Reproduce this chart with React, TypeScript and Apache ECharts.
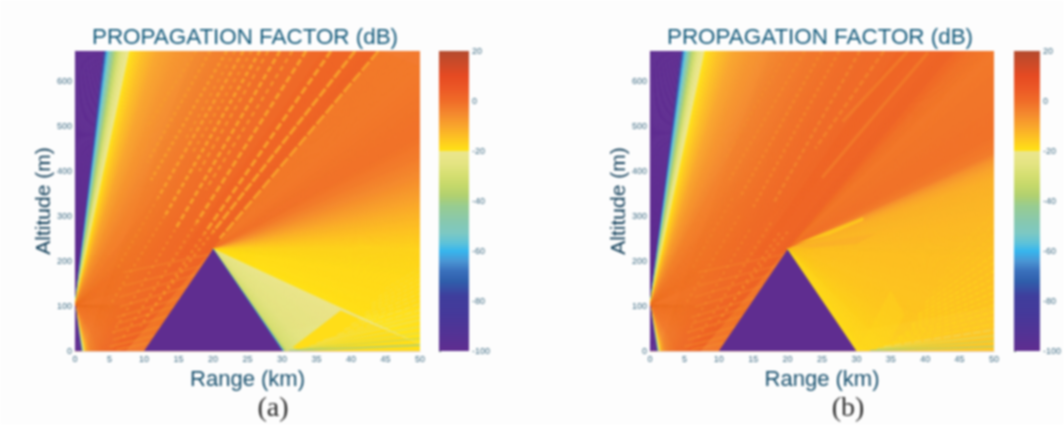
import React, { useEffect, useRef } from "react";
import * as echarts from "echarts";

const FONT = "'Liberation Sans', Arial, sans-serif";
const Y_MAX = 667;

// colour scale
const paletteDb = [-100, -85, -78, -72, -68, -64, -60, -57, -53, -48, -42, -38, -34, -30, -25, -20.01, -20, -15, -10, -5, 0, 5, 10, 15, 20];
const paletteColors = ["#5f2d90", "#45399a", "#3f3e9c", "#2f5fac", "#3a70bc", "#4a96d4", "#36b6ee", "#5cc2da", "#7cc8c4", "#88c8ae", "#98cc90", "#b0d070", "#c4d86a", "#d4de70", "#e4e482", "#ece68e", "#ffe316", "#fdc422", "#f9a52c", "#f4882e", "#f06c28", "#ec5826", "#e64a22", "#cc4a28", "#b34a2e"];

const xTicks = [0, 50];
const yTicks = [0, Y_MAX];
const dbRange = [-100, 20];

// hill outline [km, m]
const hill = [[10, 0], [20, 226], [30, 0]];

// fans: [ray end km, ray end m, dB, opacity]
const sourceOrigin = [0, 100];
const apexOrigin = [20, 226];
const imageOrigin = [-3.5, -195];
const sourceFanA = [[0, 667, -100], [4.1, 667, -100], [4.4, 667, -72], [4.7, 667, -60], [5.1, 667, -50], [5.8, 667, -38], [6.6, 667, -28], [7.6, 667, -21], [8.1, 667, -19.5], [8.9, 667, -17], [10, 667, -14], [12, 667, -10], [15, 667, -7], [20, 667, -4.5], [28, 667, -3], [50, 667, -2], [50, 100, -2], [14, 0, -2], [4, 0, -2.5], [2.2, 0, -6], [1.6, 0, -12], [1.3, 0, -19], [1.1, 0, -30], [0.95, 0, -60], [0.8, 0, -100], [0, 0, -100]];
const sourceFanB = [[0, 667, -100], [4.5, 667, -100], [4.8, 667, -72], [5.1, 667, -60], [5.5, 667, -50], [6.1, 667, -38], [6.8, 667, -28], [7.6, 667, -21], [8.2, 667, -19.5], [9, 667, -17], [10.2, 667, -14], [12.2, 667, -10], [15, 667, -7], [20, 667, -4], [28, 667, -2.5], [50, 667, -2], [50, 100, -2], [14, 0, -2], [4, 0, -2.5], [2.3, 0, -6], [1.7, 0, -12], [1.4, 0, -19], [1.2, 0, -30], [1.05, 0, -60], [0.9, 0, -100], [0, 0, -100]];
const imageFan = [[17, 667, -2, 0], [22, 667, -1, 0.4], [26, 667, 0, 0.7], [30, 667, 1, 0.9], [36, 667, 1.5, 1], [44.3, 667, 2, 1]];
const apexFanA = [[44.3, 667, -2.5], [50, 632, -2.5], [50, 484, -1], [50, 432, -3], [50, 384, -6], [50, 347, -9], [50, 310, -12], [50, 268, -15], [50, 230, -17.5], [50, 170, -18.7], [50, 60, -19.4], [50, 18, -19.9], [50, 8, -20.5], [50, -100, -23], [50, -250, -25], [50, -400, -29], [50, -430, -38], [50, -442, -58], [50, -450, -80]];
const apexFanB = [[44.3, 667, 1], [46.5, 667, -1], [50, 667, -2.2], [50, 484, -1], [50, 440, -3], [50, 425, -7], [50, 405, -10], [50, 380, -12], [50, 330, -13], [50, 200, -14.5], [50, 90, -15], [50, -30, -15.5], [50, -150, -16.5], [50, -280, -17.5], [50, -380, -18], [50, -440, -19], [50, -450, -19.5]];

// patches: outline in [km, m], dB and opacity
const patchesA = [
  { points: [[38.5, 90], [50, 15], [50, 0], [33, 0], [31.5, 8]], db: -19, opacity: 1 },
];
const patchesB = [
  { points: [[21, 232], [28, 250], [33, 262], [30, 238], [24, 230]], db: -11, opacity: 0.6 },
  { points: [[21, 238], [26, 268], [31, 298], [31, 290], [26, 258]], db: -19, opacity: 0.6 },
  { points: [[30.2, 0], [35, 135], [37, 80], [34, 0]], db: -18.5, opacity: 0.3 },
];

// fringes rising from the hill foot: [end m at 50 km, start km, dB, opacity, width, dash]
const footOrigin = [30, 0];
const footFringesA = [[13, 31, -42, 1, 1.2, 0], [28, 32, -36, 0.9, 1, 0], [40, 33, -31, 0.7, 1, 0], [54, 34, -28, 0.7, 1, 0], [69, 35, -25, 0.7, 1, 0], [80, 36, -24, 0.6, 1, 0], [91, 38, -23, 0.6, 1, 8], [105, 39, -22, 0.6, 1, 7], [117, 40, -22, 0.5, 1, 6], [128, 41, -22, 0.5, 1, 6], [139, 42, -22, 0.4, 1, 5], [150, 43, -22, 0.4, 1, 5], [161, 43, -22, 0.35, 1, 5], [172, 44, -22, 0.3, 1, 4], [184, 45, -22, 0.25, 1, 4]];
const footFringesB = [[10, 32, -40, 1, 1.1, 0], [22, 33, -36, 0.9, 1, 0], [34, 33, -30, 0.8, 1, 0], [47, 34, -24, 0.7, 1, 8], [60, 34, -19, 0.8, 1, 8], [74, 35, -19, 0.7, 1, 7], [88, 36, -19, 0.7, 1.2, 6], [102, 36, -19, 0.6, 1.2, 6], [116, 37, -19, 0.6, 1.2, 5], [130, 38, -18.5, 0.7, 1.4, 5], [146, 38, -18.5, 0.7, 1.4, 5], [162, 39, -18.5, 0.7, 1.4, 5], [178, 39, -18.5, 0.7, 1.4, 5], [196, 40, -18, 0.6, 1.4, 5], [214, 40, -18, 0.6, 1.4, 5], [234, 41, -17, 0.5, 1.4, 5], [256, 42, -17, 0.5, 1.4, 5], [280, 43, -16, 0.5, 1.4, 5], [306, 44, -16, 0.4, 1.4, 5]];

// stripes above the hill: [km1, m1, km2, m2, dB, opacity, width, dash, gap]
const stripesA = [
  [44, 667, 21, 250, -9, 1, 3, 12, 2], [40.6, 667, 20, 265, -9, 1, 3, 10, 2], [37.1, 667, 18.8, 262, -9, 1, 3, 8, 3], [33.5, 667, 17.6, 285, -9, 1, 3, 7, 3],
  [29.7, 667, 14.5, 270, -9, 1, 3, 6, 3], [26.8, 667, 13, 300, -9, 1, 3, 5, 3], [24.4, 667, 12, 340, -9, 0.9, 3, 5, 3], [22, 667, 11, 380, -9, 0.8, 3, 4, 3], [19.6, 667, 10.5, 420, -9, 0.6, 3, 4, 3], [17.6, 667, 10.5, 500, -9, 0.4, 3, 4, 3],
  [31.5, 667, 19, 360, -9, 0.7, 2.6, 5, 4], [28, 667, 18, 400, -9, 0.7, 2.6, 5, 4], [25.6, 667, 17, 440, -9, 0.6, 2.6, 4, 4], [23.2, 667, 16, 470, -9, 0.5, 2.6, 4, 4],
  [20, 265, 10, 70, -9, 0.6, 2.4, 3, 4], [18.8, 262, 9.5, 55, -9, 0.6, 2.4, 3, 4], [17.6, 285, 7, 30, -9, 0.5, 2.4, 3, 4], [14.5, 270, 5.5, 40, -9, 0.45, 2.4, 3, 4], [13, 300, 5, 100, -9, 0.4, 2.4, 3, 4], [12, 340, 6, 180, -9, 0.35, 2.4, 3, 4],
  [19.5, 215, 7, 175, -8, 0.35, 1.8, 0, 0], [18.5, 190, 7, 145, -8, 0.35, 1.8, 0, 0], [17.5, 170, 6.5, 120, -8, 0.35, 1.8, 0, 0], [16.5, 145, 6.5, 98, -8, 0.4, 1.8, 0, 0], [15.5, 120, 6, 75, -8, 0.4, 1.8, 0, 0], [14.5, 100, 6, 60, -8, 0.4, 1.8, 0, 0], [13.5, 78, 5.5, 42, -8, 0.45, 1.8, 0, 0], [12.5, 55, 5.5, 25, -8, 0.45, 1.8, 0, 0], [11.5, 34, 5, 10, -8, 0.45, 1.8, 0, 0], [10.8, 18, 6, 3, -8, 0.45, 1.8, 0, 0],
];
const stripesB = [
  [40.4, 664, 25, 385, -7, 0.4, 3.2, 0, 0], [37.5, 667, 28, 510, -7, 0.4, 3.2, 0, 0], [34, 667, 24, 450, -7, 0.5, 3, 6, 3], [30.5, 667, 18, 330, -7, 0.5, 3, 5, 3], [27.5, 667, 15, 320, -7, 0.45, 3, 4, 3], [25, 667, 13, 340, -7, 0.45, 3, 4, 3], [22.5, 667, 11.5, 380, -7, 0.4, 3, 4, 3], [20, 667, 11, 430, -7, 0.3, 3, 4, 3],
  [20, 265, 10, 70, -7, 0.5, 2.4, 3, 4], [18.8, 262, 9.5, 55, -7, 0.5, 2.4, 3, 4], [17.6, 285, 7, 30, -7, 0.45, 2.4, 3, 4], [14.5, 270, 5.5, 40, -7, 0.4, 2.4, 3, 4], [13, 300, 5, 100, -7, 0.35, 2.4, 3, 4], [12, 340, 6, 180, -7, 0.3, 2.4, 3, 4],
  [19.5, 215, 7, 175, -8, 0.3, 1.8, 0, 0], [18.5, 190, 7, 145, -8, 0.3, 1.8, 0, 0], [17.5, 170, 6.5, 120, -8, 0.3, 1.8, 0, 0], [16.5, 145, 6.5, 98, -8, 0.35, 1.8, 0, 0], [15.5, 120, 6, 75, -8, 0.35, 1.8, 0, 0], [14.5, 100, 6, 60, -8, 0.35, 1.8, 0, 0], [13.5, 78, 5.5, 42, -8, 0.4, 1.8, 0, 0], [12.5, 55, 5.5, 25, -8, 0.4, 1.8, 0, 0], [11.5, 34, 5, 10, -8, 0.4, 1.8, 0, 0], [10.8, 18, 6, 3, -8, 0.4, 1.8, 0, 0],
];

function hexToRgb(h: string) {
  return [parseInt(h.slice(1, 3), 16), parseInt(h.slice(3, 5), 16), parseInt(h.slice(5, 7), 16)];
}
function colorOf(db: number) {
  if (db <= paletteDb[0]) return paletteColors[0];
  for (let i = 1; i < paletteDb.length; i++) {
    if (db <= paletteDb[i]) {
      const t = (db - paletteDb[i - 1]) / (paletteDb[i] - paletteDb[i - 1]);
      const a = hexToRgb(paletteColors[i - 1]);
      const b = hexToRgb(paletteColors[i]);
      return `rgb(${a.map((v, k) => Math.round(v + (b[k] - v) * t)).join(",")})`;
    }
  }
  return paletteColors[paletteColors.length - 1];
}

// a wedge between two rays, shaded across its angle in thin slices
function fanSeries(gridIndex: number, origin: number[], rays: number[][]) {
  return {
    type: "custom", xAxisIndex: gridIndex, yAxisIndex: gridIndex, clip: true, silent: true,
    data: rays.slice(0, -1).map((r, i) => [r[0], r[1], rays[i + 1][0], rays[i + 1][1], r[2], rays[i + 1][2], r[3] ?? 1, rays[i + 1][3] ?? 1]),
    encode: { x: 0, y: 1 },
    renderItem: (_: any, api: any) => {
      const o = api.coord(origin);
      const a = api.coord([api.value(0), api.value(1)]);
      const b = api.coord([api.value(2), api.value(3)]);
      const d0 = api.value(4), d1 = api.value(5), o0 = api.value(6), o1 = api.value(7);
      const n = Math.max(1, Math.ceil(Math.hypot(b[0] - a[0], b[1] - a[1]) / 1.5));
      const children: any[] = [];
      for (let i = 0; i < n; i++) {
        const t0 = i / n, t1 = (i + 1) / n, tm = (i + 0.5) / n;
        const p = [a[0] + (b[0] - a[0]) * t0, a[1] + (b[1] - a[1]) * t0];
        const q = [a[0] + (b[0] - a[0]) * t1, a[1] + (b[1] - a[1]) * t1];
        const color = colorOf(d0 + (d1 - d0) * tm);
        const opacity = o0 + (o1 - o0) * tm;
        const solid = opacity >= 1;
        children.push({
          type: "polygon", shape: { points: [o, p, q] },
          style: { fill: color, opacity, stroke: solid ? color : null, lineWidth: solid ? 0.7 : 0, lineJoin: "bevel" },
        });
      }
      return { type: "group", children };
    },
  };
}

function patchSeries(gridIndex: number, patches: { points: number[][]; db: number; opacity: number }[]) {
  return {
    type: "custom", xAxisIndex: gridIndex, yAxisIndex: gridIndex, clip: true, silent: true,
    data: patches.map((p, i) => [p.points[0][0], p.points[0][1], i]),
    encode: { x: 0, y: 1 },
    renderItem: (_: any, api: any) => {
      const p = patches[api.value(2)];
      return { type: "polygon", shape: { points: p.points.map((q) => api.coord(q)) }, style: { fill: colorOf(p.db), opacity: p.opacity } };
    },
  };
}

function stripeSeries(gridIndex: number, stripes: number[][]) {
  return {
    type: "custom", xAxisIndex: gridIndex, yAxisIndex: gridIndex, clip: true, silent: true,
    data: stripes,
    encode: { x: 0, y: 1 },
    renderItem: (_: any, api: any) => {
      const a = api.coord([api.value(0), api.value(1)]);
      const b = api.coord([api.value(2), api.value(3)]);
      const dash = api.value(7);
      return {
        type: "line",
        shape: { x1: a[0], y1: a[1], x2: b[0], y2: b[1] },
        style: { stroke: colorOf(api.value(4)), opacity: api.value(5), lineWidth: api.value(6), lineDash: dash ? [dash, api.value(8)] : undefined, fill: null },
      };
    },
  };
}

function footStripes(fringes: number[][]) {
  return fringes.map(([alt, sx, db, op, w, dash]) => [sx, (alt * (sx - footOrigin[0])) / (50 - footOrigin[0]), 50, alt, db, op, w, dash, 2]);
}

function barSeries(gridIndex: number) {
  return {
    type: "custom", xAxisIndex: gridIndex, yAxisIndex: gridIndex, silent: true,
    data: [[0, dbRange[0], 1, dbRange[1]]],
    encode: { x: 0, y: 1 },
    renderItem: (_: any, api: any) => {
      const a = api.coord([api.value(0), api.value(3)]);
      const b = api.coord([api.value(2), api.value(1)]);
      const stops = paletteDb.map((d, i) => ({ offset: (dbRange[1] - d) / (dbRange[1] - dbRange[0]), color: paletteColors[i] })).reverse();
      return {
        type: "rect",
        shape: { x: a[0], y: a[1], width: b[0] - a[0], height: b[1] - a[1] },
        style: { fill: new echarts.graphic.LinearGradient(0, 0, 0, 1, stops) },
      };
    },
  };
}

const TICK = "#3f6c84";
const AXIS = "#e6c8bc";

function plotAxes(gridIndex: number) {
  return {
    x: {
      type: "value", gridIndex, min: xTicks[0], max: xTicks[1], interval: 5,
      name: "Range (km)", nameLocation: "middle", nameGap: 5,
      nameTextStyle: { fontFamily: FONT, fontSize: 22, color: "#154e6c", verticalAlign: "top" },
      axisLine: { lineStyle: { color: AXIS } }, axisTick: { show: false }, splitLine: { show: false },
      axisLabel: { fontFamily: FONT, fontSize: 9, color: TICK, margin: 3 },
    },
    y: {
      type: "value", gridIndex, min: yTicks[0], max: yTicks[1], interval: 100,
      name: "Altitude (m)", nameLocation: "middle", nameGap: 21,
      nameTextStyle: { fontFamily: FONT, fontSize: 21, color: "#0f3d58" },
      axisLine: { lineStyle: { color: AXIS } }, axisTick: { show: false }, splitLine: { show: false },
      axisLabel: { fontFamily: FONT, fontSize: 9, color: TICK, margin: 3, showMaxLabel: false },
    },
  };
}

function barAxes(gridIndex: number) {
  return {
    x: { type: "value", gridIndex, min: 0, max: 1, show: false },
    y: {
      type: "value", gridIndex, min: dbRange[0], max: dbRange[1], interval: 20, position: "right",
      axisLine: { show: false }, axisTick: { show: true, inside: false, length: 2, lineStyle: { color: "#6a8a7a" } }, splitLine: { show: false },
      axisLabel: { fontFamily: FONT, fontSize: 9, color: TICK, margin: 3 },
    },
  };
}

const panelA = plotAxes(0), panelB = plotAxes(1), barA = barAxes(2), barB = barAxes(3);

const hillSeries = (g: number) => patchSeries(g, [{ points: hill, db: -100, opacity: 1 }]);

const titleStyle = { fontFamily: FONT, fontSize: 22.4, fontWeight: "normal", color: "#13597a" };
const letterStyle = { fontFamily: "'Liberation Serif', serif", fontSize: 28, fontWeight: "normal", color: "#2a2a2a" };

const option = {
  animation: false,
  backgroundColor: "#fdfdfd",
  title: [
    { text: "PROPAGATION FACTOR (dB)", left: 240, top: 20, textAlign: "center", textStyle: titleStyle },
    { text: "PROPAGATION FACTOR (dB)", left: 815, top: 20, textAlign: "center", textStyle: titleStyle },
    { text: "(a)", left: 268, top: 387, textAlign: "center", textStyle: letterStyle },
    { text: "(b)", left: 843, top: 387, textAlign: "center", textStyle: letterStyle },
  ],
  grid: [
    { left: 75, top: 51, width: 345, height: 300 },
    { left: 650, top: 51, width: 344, height: 300 },
    { left: 439, top: 51, width: 30, height: 300 },
    { left: 1014, top: 51, width: 30, height: 300 },
  ],
  xAxis: [panelA.x, panelB.x, barA.x, barB.x],
  yAxis: [panelA.y, panelB.y, barA.y, barB.y],
  series: [
    fanSeries(0, sourceOrigin, sourceFanA),
    fanSeries(0, imageOrigin, imageFan),
    stripeSeries(0, stripesA),
    fanSeries(0, apexOrigin, apexFanA),
    patchSeries(0, patchesA),
    stripeSeries(0, footStripes(footFringesA)),
    hillSeries(0),
    fanSeries(1, sourceOrigin, sourceFanB),
    fanSeries(1, imageOrigin, imageFan),
    stripeSeries(1, stripesB),
    fanSeries(1, apexOrigin, apexFanB),
    patchSeries(1, patchesB),
    stripeSeries(1, footStripes(footFringesB)),
    hillSeries(1),
    barSeries(2),
    barSeries(3),
  ],
};

export default function App() {
  const ref = useRef<HTMLDivElement>(null);
  useEffect(() => {
    document.body.style.margin = "0";
    const chart = echarts.init(ref.current!, null, { renderer: "svg" });
    chart.setOption(option as any);
    return () => chart.dispose();
  }, []);
  return <div ref={ref} style={{ width: 1064, height: 425, filter: "blur(0.8px)" }} />;
}
